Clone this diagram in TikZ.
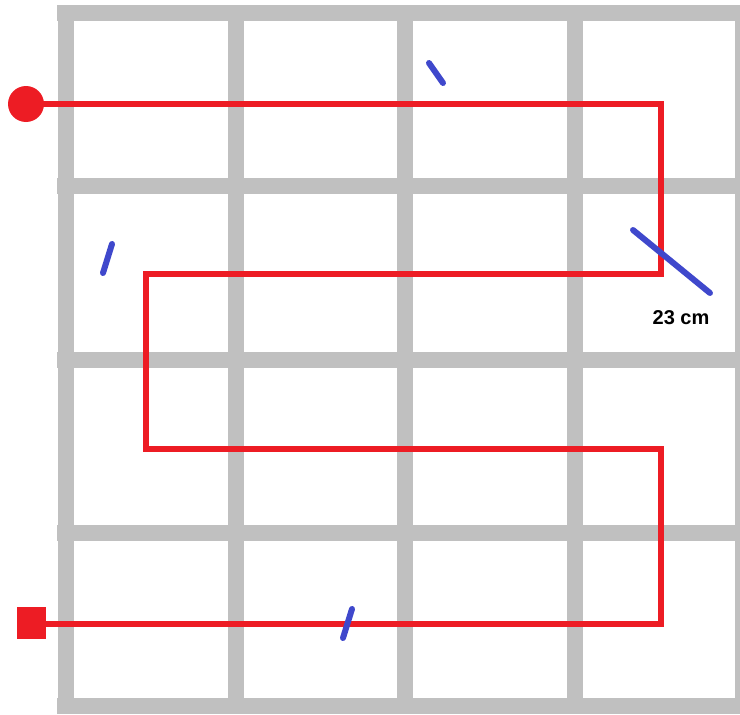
\documentclass[tikz,border=0pt]{standalone}
\usepackage{fontspec}
\setmainfont{Liberation Sans}
\definecolor{gridgray}{RGB}{192,192,192}
\definecolor{routered}{RGB}{237,28,36}
\definecolor{tickblue}{RGB}{63,72,204}
\begin{document}
\begin{tikzpicture}[x=1pt, y=-1pt,
  gridline/.style={line width=16pt, gridgray},
  route/.style={line width=6.5pt, routered},
  tickmark/.style={line width=6pt, tickblue, line cap=round}]
  \useasboundingbox (0,0) rectangle (740,715);

  % Grid of cells
  \foreach \x in {65.5,236,405,574.5,743} {
    \draw[gridline] (\x,5) -- (\x,714);
  }
  \foreach \y in {13,185.5,359.5,533,706} {
    \draw[gridline] (57,\y) -- (751,\y);
  }

  % Start and end markers
  \node[circle, fill=routered, minimum size=36pt, inner sep=0pt] (start) at (26,104) {};
  \node[rectangle, fill=routered, minimum width=29pt, minimum height=32pt, inner sep=0pt] (finish) at (31.5,623) {};

  % Turning points of the route
  \coordinate (t1) at (661,104);
  \coordinate (t2) at (661,274);
  \coordinate (t3) at (146,274);
  \coordinate (t4) at (146,449);
  \coordinate (t5) at (661,449);
  \coordinate (t6) at (661,624);

  % Red route
  \draw[route] (start.center) -- (t1) -- (t2) -- (t3) -- (t4) -- (t5) -- (t6) -- (finish.center |- t6);

  % Blue strokes
  \draw[tickmark] (429,63) -- (443,83);
  \draw[tickmark] (112,244) -- (103,273);
  \draw[tickmark] (633,230) -- (710,293);
  \draw[tickmark] (352,609) -- (343,638);

  % Length label
  \node[font=\bfseries\fontsize{20}{24}\selectfont] (len) at (681,318) {23 cm};
\end{tikzpicture}
\end{document}
